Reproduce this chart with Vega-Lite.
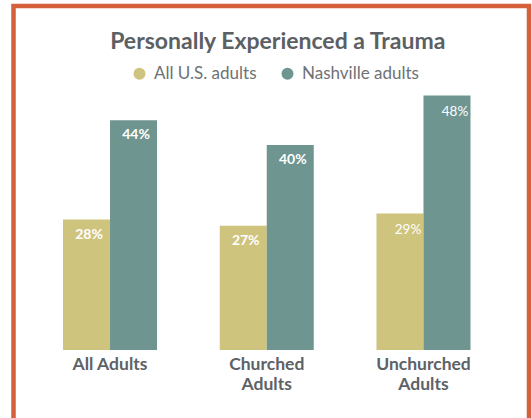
{
  "$schema": "https://vega.github.io/schema/vega-lite/v6.json",
  "autosize": {"type": "none"},
  "width": 515.5,
  "height": 415,
  "padding": {"left": 13.5, "top": 6, "right": 3, "bottom": 0},
  "background": "white",
  "config": {
    "view": {"stroke": "#d5603c", "strokeWidth": 4.5},
    "font": "Lato"
  },
  "title": {
    "text": "Personally Experienced a Trauma",
    "anchor": "middle",
    "frame": "group",
    "offset": -66,
    "baseline": "alphabetic",
    "dx": 6.5,
    "font": "Lato",
    "fontSize": 23,
    "fontWeight": "bold",
    "color": "#5b6064"
  },
  "data": {
    "values": [
      {"group": "All Adults", "series": "All U.S. adults", "value": 0.28},
      {"group": "All Adults", "series": "Nashville adults", "value": 0.44},
      {"group": "Churched Adults", "series": "All U.S. adults", "value": 0.27},
      {"group": "Churched Adults", "series": "Nashville adults", "value": 0.40},
      {"group": "Unchurched Adults", "series": "All U.S. adults", "value": 0.29},
      {"group": "Unchurched Adults", "series": "Nashville adults", "value": 0.48}
    ]
  },
  "encoding": {
    "x": {
      "field": "group",
      "type": "nominal",
      "scale": {"range": [49.5, 457], "paddingInner": 0.4, "paddingOuter": 0},
      "axis": {
        "title": null,
        "domain": false,
        "ticks": false,
        "grid": false,
        "labelAngle": 0,
        "labelPadding": 0,
        "offset": -66,
        "labelFont": "Lato",
        "labelFontSize": 17.5,
        "labelFontWeight": "bold",
        "labelColor": "#5d6266",
        "labelLineHeight": 20,
        "labelExpr": "datum.label == 'All Adults' ? datum.label : split(datum.label, ' ')"
      }
    },
    "xOffset": {"field": "series", "type": "nominal"},
    "y": {
      "field": "value",
      "type": "quantitative",
      "scale": {"domain": [0.07, 0.5], "range": [344, 77], "nice": false, "zero": false},
      "axis": null
    }
  },
  "layer": [
    {
      "mark": {"type": "bar"},
      "encoding": {
        "y2": {"datum": 0.07},
        "color": {
          "field": "series",
          "type": "nominal",
          "scale": {"range": ["#cfc47d", "#6f9590"]},
          "legend": {
            "orient": "none",
            "legendX": 117.5,
            "legendY": 59,
            "direction": "horizontal",
            "title": null,
            "padding": 0,
            "symbolType": "circle",
            "symbolSize": 144,
            "symbolStrokeWidth": 0,
            "symbolOpacity": 1,
            "labelFont": "Lato",
            "labelFontSize": 17,
            "labelColor": "#6d7276",
            "labelOffset": 6,
            "columnPadding": 22
          }
        }
      }
    },
    {
      "transform": [{"filter": "datum.group !== 'Unchurched Adults'"}],
      "mark": {
        "type": "text",
        "dy": 15,
        "dx": 2.5,
        "baseline": "middle",
        "align": "center",
        "color": "white",
        "font": "Lato",
        "fontSize": 14,
        "fontWeight": "bold"
      },
      "encoding": {
        "text": {"field": "value", "type": "quantitative", "format": ".0%"}
      }
    },
    {
      "transform": [{"filter": "datum.group === 'Unchurched Adults'"}],
      "mark": {
        "type": "text",
        "dy": 16.5,
        "dx": 8,
        "baseline": "middle",
        "align": "center",
        "color": "white",
        "font": "Lato",
        "fontSize": 13.5,
        "fontWeight": "normal"
      },
      "encoding": {
        "text": {"field": "value", "type": "quantitative", "format": ".0%"}
      }
    }
  ]
}
